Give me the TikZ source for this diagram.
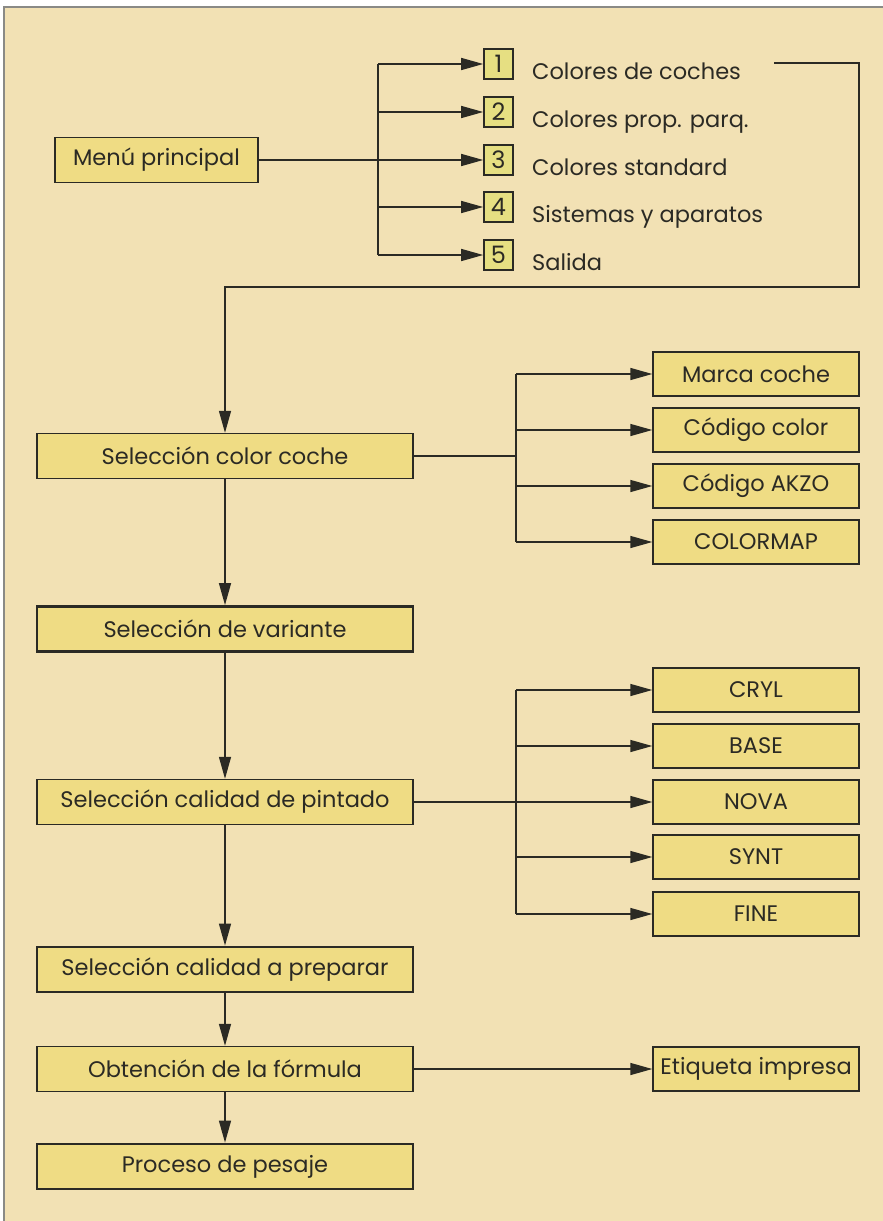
\documentclass[tikz,border=0pt]{standalone}
\usepackage{fontspec}
\setmainfont{Poppins}
\usetikzlibrary{arrows.meta}
\definecolor{bg}{HTML}{F2E1B4}
\definecolor{boxfill}{HTML}{EFDC84}
\definecolor{numfill}{HTML}{E6DF82}
\definecolor{ink}{HTML}{2B2A24}
\definecolor{frame}{HTML}{8A8A86}
\begin{document}
\begin{tikzpicture}[x=1pt,y=-1pt,
  txt/.style={font=\fontsize{22.5}{24}\selectfont, text=ink},
  box/.style={txt, draw=ink, fill=boxfill, line width=1.4pt, minimum height=45pt, inner sep=0pt},
  mainbox/.style={box, minimum width=376pt},
  thickbox/.style={mainbox, line width=2.8pt},
  sidebox/.style={box, minimum width=206pt, minimum height=44pt},
  numbox/.style={font=\fontsize{24}{26}\selectfont, text=ink, draw=ink, fill=numfill, line width=1.6pt, minimum width=29pt, minimum height=30pt, inner sep=0pt},
  lab/.style={txt, anchor=base west, inner sep=0pt},
  conn/.style={draw=ink, line width=1.4pt},
  arr/.style={conn, -{Triangle[length=22pt,width=12pt]}},
]
\useasboundingbox (0,0) rectangle (883,1221);
\fill[white] (0,0) rectangle (883,1221);
\fill[bg] (4,7) rectangle (883,1221);
\draw[frame, line width=1.5pt] (4,1221) -- (4,7) -- (883,7);

% top menu
\node[box, minimum width=203pt] (menu) at (156.5,160) {Menú principal};
\node[numbox] (n1) at (498.5,64) {1};
\node[numbox] (n2) at (498.5,112) {2};
\node[numbox] (n3) at (498.5,160) {3};
\node[numbox] (n4) at (498.5,207) {4};
\node[numbox] (n5) at (498.5,255) {5};
\node[lab] (l1) at (532,79) {Colores de coches};
\node[lab] (l2) at (532,127) {Colores prop. parq.};
\node[lab] (l3) at (532,175) {Colores standard};
\node[lab] (l4) at (532,222) {Sistemas y aparatos};
\node[lab] (l5) at (532,270) {Salida};

% main column
\node[mainbox] (s1) at (225,456) {Selección color coche};
\node[thickbox] (s2) at (225,629) {Selección de variante};
\node[mainbox] (s3) at (225,802) {Selección calidad de pintado};
\node[thickbox] (s4) at (225,969.5) {Selección calidad a preparar};
\node[mainbox] (s5) at (225,1069) {Obtención de la fórmula};
\node[thickbox] (s6) at (225,1166.5) {Proceso de pesaje};

% side boxes
\node[sidebox] (a1) at (756,374) {Marca coche};
\node[sidebox] (a2) at (756,430) {Código color};
\node[sidebox] (a3) at (756,486) {Código AKZO};
\node[sidebox] (a4) at (756,542) {COLORMAP};
\node[sidebox] (b1) at (756,690) {CRYL};
\node[sidebox] (b2) at (756,746) {BASE};
\node[sidebox] (b3) at (756,802) {NOVA};
\node[sidebox] (b4) at (756,857) {SYNT};
\node[sidebox] (b5) at (756,914) {FINE};
\node[sidebox] (e1) at (756,1069) {Etiqueta impresa};

% top connectors
\coordinate (t0) at (378,0);
\draw[conn] (menu.east) -- (n3.west -| t0);
\draw[conn] (n1.west -| t0) -- (n5.west -| t0);
\foreach \n in {n1,n2,n3,n4,n5}{\draw[arr] (\n.west -| t0) -- (\n.west);}
\coordinate (r0) at (774,63);
\coordinate (r1) at (859,287);
\draw[arr] (r0) -| (r1) -| (s1.north);

% main flow
\draw[arr] (s1.south) -- (s2.north);
\draw[arr] (s2.south) -- (s3.north);
\draw[arr] (s3.south) -- (s4.north);
\draw[arr] (s4.south) -- (s5.north);
\draw[arr] (s5.south) -- (s6.north);

% side trees
\coordinate (ta) at (516,0);
\draw[conn] (s1.east) -- (s1.east -| ta);
\draw[conn] (a1.west -| ta) -- (a4.west -| ta);
\foreach \n in {a1,a2,a3,a4}{\draw[arr] (\n.west -| ta) -- (\n.west);}
\draw[conn] (b1.west -| ta) -- (b5.west -| ta);
\draw[conn] (s3.east) -- (b3.west -| ta);
\foreach \n in {b1,b2,b3,b4,b5}{\draw[arr] (\n.west -| ta) -- (\n.west);}
\draw[arr] (s5.east) -- (e1.west);
\end{tikzpicture}
\end{document}
